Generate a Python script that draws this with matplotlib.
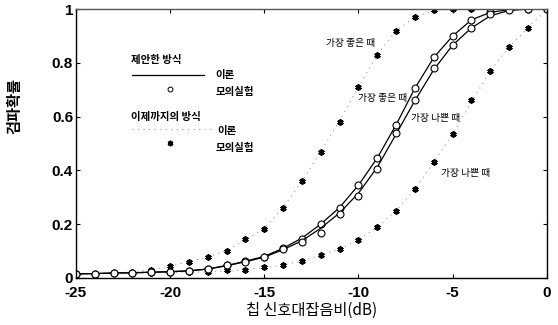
import matplotlib
matplotlib.use("Agg")
import matplotlib.pyplot as plt
import numpy as np

snr_db = [-25, -24, -23, -22, -21, -20, -19, -18, -17, -16, -15, -14, -13,
          -12, -11, -10, -9, -8, -7, -6, -5, -4, -3, -2, -1, 0]

# proposed method: theory and simulation (best / worst)
prop_best_theory = [0.015, 0.016, 0.018, 0.019, 0.021, 0.023, 0.026, 0.033, 0.046, 0.062,
                    0.080, 0.110, 0.148, 0.200, 0.262, 0.345, 0.446, 0.570, 0.706, 0.820,
                    0.900, 0.960, 0.988, 0.998, 1.0, 1.0]
prop_best_sim = [0.015, 0.015, 0.019, 0.019, 0.022, 0.022, 0.026, 0.034, 0.048, 0.063,
                 0.078, 0.110, 0.145, 0.200, 0.260, 0.345, 0.446, 0.570, 0.706, 0.820,
                 0.900, 0.960, 0.990, 1.0, 1.0, 1.0]
prop_worst_theory = [0.015, 0.016, 0.018, 0.019, 0.021, 0.023, 0.026, 0.033, 0.045, 0.060,
                     0.077, 0.105, 0.138, 0.185, 0.242, 0.315, 0.412, 0.535, 0.660, 0.775,
                     0.866, 0.930, 0.975, 0.995, 1.0, 1.0]
prop_worst_sim = [0.015, 0.015, 0.019, 0.019, 0.022, 0.022, 0.026, 0.034, 0.048, 0.060,
                  0.078, 0.108, 0.134, 0.167, 0.238, 0.305, 0.405, 0.540, 0.660, 0.780,
                  0.866, 0.930, 0.980, 0.996, 1.0, 1.0]

# previous method: theory and simulation (best / worst)
prev_best_theory = [0.015, 0.016, 0.018, 0.022, 0.030, 0.044, 0.060, 0.078, 0.102, 0.140,
                    0.185, 0.262, 0.360, 0.470, 0.585, 0.710, 0.830, 0.920, 0.970, 0.995,
                    1.0, 1.0, 1.0, 1.0, 1.0, 1.0]
prev_best_sim = [0.015, 0.015, 0.018, 0.022, 0.030, 0.045, 0.060, 0.077, 0.100, 0.145,
                 0.180, 0.260, 0.360, 0.470, 0.580, 0.710, 0.830, 0.920, 0.970, 0.996,
                 1.0, 1.0, 1.0, 1.0, 1.0, 1.0]
prev_worst_theory = [0.015, 0.016, 0.017, 0.018, 0.019, 0.020, 0.021, 0.022, 0.025, 0.030,
                     0.038, 0.048, 0.063, 0.085, 0.108, 0.140, 0.190, 0.250, 0.330, 0.430,
                     0.535, 0.655, 0.770, 0.860, 0.930, 1.0]
prev_worst_sim = [0.015, 0.015, 0.017, 0.018, 0.019, 0.020, 0.022, 0.022, 0.030, 0.030,
                  0.040, 0.048, 0.063, 0.085, 0.108, 0.140, 0.190, 0.250, 0.330, 0.430,
                  0.535, 0.660, 0.770, 0.860, 0.930, 1.0]

x_ticks = [-25, -20, -15, -10, -5, 0]
y_ticks = [0, 0.2, 0.4, 0.6, 0.8, 1]
y_ticklabels = ["0", "0.2", "0.4", "0.6", "0.8", "1"]

KR = ["Noto Sans CJK KR", "DejaVu Sans"]

fig = plt.figure(figsize=(5.58, 3.25), dpi=100)
ax = fig.add_axes([0.136, 0.145, 0.844, 0.827])

STAR = (6, 2, 0)

# previous method dotted theory + star simulation
for th, sim in [(prev_best_theory, prev_best_sim), (prev_worst_theory, prev_worst_sim)]:
    ax.plot(snr_db, th, linestyle=(0, (1, 4)), color="#999999", linewidth=0.8)
    ax.plot(snr_db, sim, linestyle="none", marker=STAR, color="black",
            markersize=4.5, markeredgewidth=1.3)

# proposed method solid theory + circle simulation
for th, sim in [(prop_best_theory, prop_best_sim), (prop_worst_theory, prop_worst_sim)]:
    ax.plot(snr_db, th, color="black", linewidth=0.9)
    ax.plot(snr_db, sim, linestyle="none", marker="o", markerfacecolor="white",
            markeredgecolor="black", markersize=5, markeredgewidth=0.8)

ax.set_xlim(-25, 0)
ax.set_ylim(0, 1)
ax.set_xticks(x_ticks)
ax.set_xticklabels([str(t) for t in x_ticks])
ax.set_yticks(y_ticks)
ax.set_yticklabels(y_ticklabels)
ax.tick_params(direction="in", length=3, width=0.8, top=True, right=True, pad=2)
ax.tick_params(axis="x", pad=6)
for lab in ax.get_xticklabels() + ax.get_yticklabels():
    lab.set_fontfamily("Liberation Sans")
    lab.set_fontweight("bold")
    lab.set_fontsize(11)
ax.get_yticklabels()[0].set_va("center_baseline")
for sp in ax.spines.values():
    sp.set_linewidth(1.0)
ax.spines["top"].set_color("#555555")

ax.set_xlabel("칩 신호대잡음비(dB)", family=KR, fontsize=11, labelpad=1)
ax.set_ylabel("검파확률", family=KR, fontsize=11, fontweight="bold")
ax.yaxis.set_label_coords(-0.113, 0.64)

# legend block (manual)
fs = 7.5
ax.text(-22.05, 0.81, "제안한 방식", family=KR, fontsize=fs, fontweight="bold",
        va="center", ha="left")
ax.plot([-22.0, -18.2], [0.754, 0.754], color="black", linewidth=0.9)
ax.text(-17.6, 0.754, "이론", family=KR, fontsize=fs, fontweight="bold", va="center")
ax.plot([-20.0], [0.702], marker="o", markerfacecolor="white", markeredgecolor="black",
        markersize=3.5, markeredgewidth=0.7)
ax.text(-17.6, 0.69, "모의실험", family=KR, fontsize=fs, fontweight="bold", va="center")
ax.text(-22.05, 0.60, "이제까지의 방식", family=KR, fontsize=fs, fontweight="bold",
        va="center")
ax.plot([-22.0, -17.8], [0.555, 0.555], linestyle=(0, (1, 4)), color="#999999",
        linewidth=0.8)
ax.text(-17.5, 0.547, "이론", family=KR, fontsize=fs, fontweight="bold", va="center")
ax.plot([-20.0], [0.5], marker=STAR, color="black", markersize=4, markeredgewidth=1.2,
        linestyle="none")
ax.text(-17.6, 0.483, "모의실험", family=KR, fontsize=fs, fontweight="bold", va="center")

# curve annotations
ax.text(-11.7, 0.875, "가장 좋은 때", family=KR, fontsize=7, va="center")
ax.text(-10.0, 0.67, "가장 좋은 때", family=KR, fontsize=7, va="center")
ax.text(-7.2, 0.595, "가장 나쁜 때", family=KR, fontsize=7, va="center")
ax.text(-5.6, 0.39, "가장 나쁜 때", family=KR, fontsize=7, va="center")

fig.savefig("out.png", dpi=100)
